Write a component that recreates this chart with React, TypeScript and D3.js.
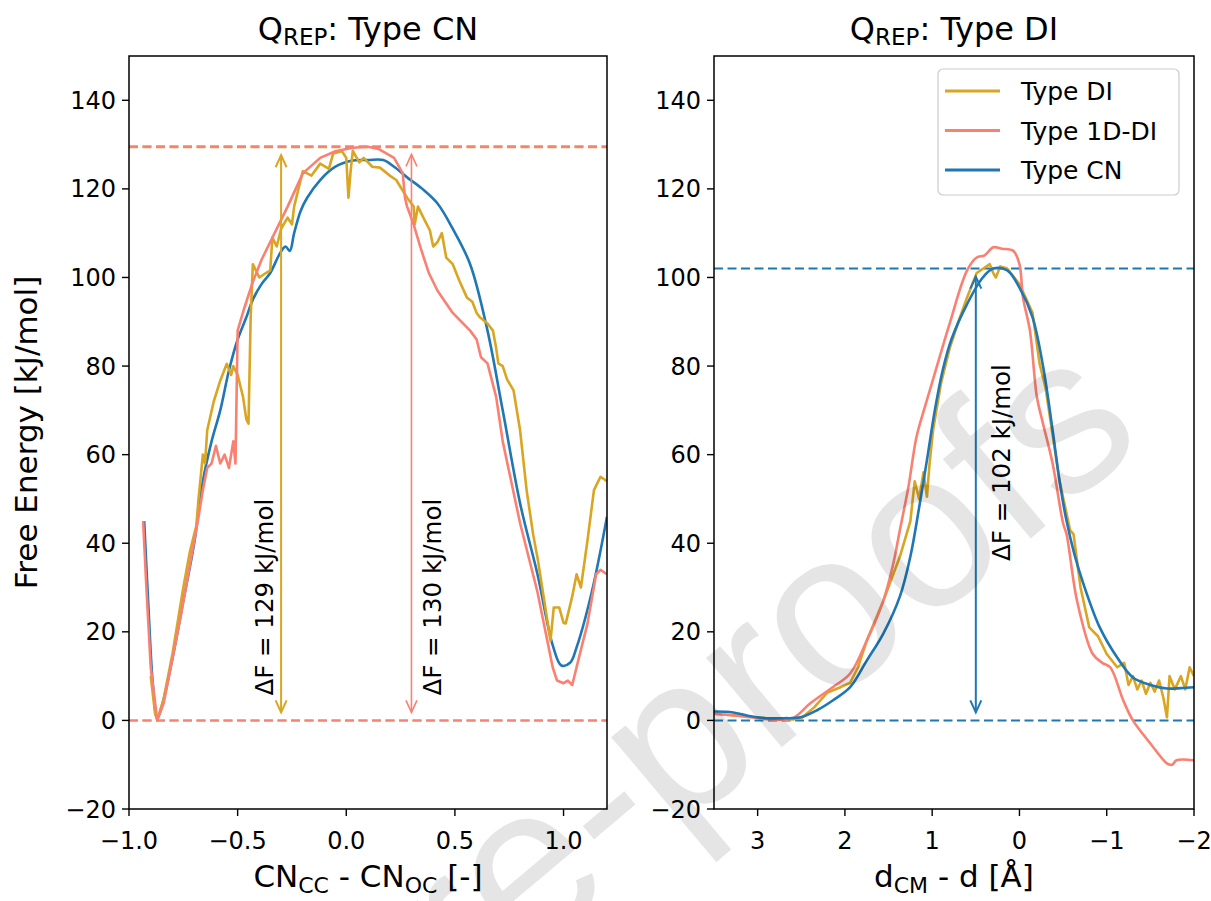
import React from 'react';
import * as d3 from 'd3';

type P = [number, number];

// ---------- data ----------
const leftTypeDI: P[] = [
  [-0.9, 10], [-0.88, 1.6], [-0.87, 0], [-0.84, 5], [-0.8, 15], [-0.75, 30], [-0.72, 38], [-0.69, 44],
  [-0.68, 50], [-0.67, 55], [-0.66, 60], [-0.65, 58], [-0.64, 65.5], [-0.61, 72], [-0.58, 76.7],
  [-0.55, 80.5], [-0.53, 78], [-0.52, 80], [-0.5, 78], [-0.49, 76], [-0.475, 73], [-0.46, 68],
  [-0.45, 67], [-0.44, 91], [-0.43, 103], [-0.4, 100], [-0.37, 101], [-0.35, 101.6], [-0.34, 109],
  [-0.32, 107], [-0.3, 111], [-0.27, 113.5], [-0.25, 112], [-0.24, 116], [-0.2, 124], [-0.16, 123],
  [-0.12, 125.7], [-0.08, 124.5], [-0.06, 128], [-0.02, 128.5], [0.0, 127], [0.01, 118], [0.02, 124],
  [0.03, 128.6], [0.06, 126], [0.08, 127], [0.12, 125], [0.155, 124.8], [0.2, 123], [0.23, 122],
  [0.28, 118], [0.31, 116], [0.315, 112], [0.33, 116], [0.36, 113], [0.385, 110.6], [0.4, 107],
  [0.42, 108], [0.44, 110], [0.46, 104.5], [0.49, 103], [0.52, 99.3], [0.555, 95.5], [0.58, 94.5],
  [0.6, 92], [0.615, 91], [0.65, 89.6], [0.675, 88], [0.69, 84], [0.7, 80.6], [0.72, 80], [0.74, 77],
  [0.77, 74.5], [0.8, 65.5], [0.83, 52], [0.86, 42], [0.88, 36.8], [0.905, 29], [0.94, 18],
  [0.955, 25.5], [0.98, 25.5], [1.0, 22], [1.01, 21.9], [1.04, 28], [1.06, 33], [1.08, 30],
  [1.11, 40.6], [1.14, 52], [1.17, 55], [1.2, 54],
];
const leftType1DDI: P[] = [
  [-0.935, 45], [-0.92, 30], [-0.9, 12], [-0.87, 0], [-0.84, 4], [-0.8, 14], [-0.76, 24], [-0.72, 35],
  [-0.68, 46], [-0.66, 52], [-0.64, 57], [-0.62, 58], [-0.6, 62], [-0.58, 58], [-0.56, 60],
  [-0.54, 57], [-0.52, 63], [-0.51, 58], [-0.5, 88], [-0.47, 93], [-0.43, 99], [-0.39, 104],
  [-0.35, 108], [-0.31, 112], [-0.27, 116], [-0.2, 123.5], [-0.12, 127], [-0.05, 128.5], [0.03, 129.3],
  [0.1, 129.5], [0.15, 129], [0.22, 127], [0.26, 123.5], [0.27, 118], [0.28, 116], [0.31, 112],
  [0.34, 107], [0.38, 101], [0.42, 97], [0.49, 92], [0.57, 88], [0.6, 86], [0.62, 82], [0.65, 80.6],
  [0.69, 73], [0.72, 63], [0.8, 44.5], [0.88, 29], [0.95, 12], [0.97, 9], [1.0, 8.4], [1.02, 9],
  [1.04, 8], [1.07, 14], [1.11, 21.8], [1.15, 33], [1.17, 34], [1.2, 33],
];
const leftTypeCN: P[] = [
  [-0.93, 45], [-0.91, 25], [-0.89, 8], [-0.87, 0.5], [-0.85, 3], [-0.8, 14], [-0.75, 27], [-0.7, 40],
  [-0.66, 54], [-0.62, 63], [-0.58, 70], [-0.54, 79], [-0.5, 86], [-0.46, 91], [-0.43, 95],
  [-0.39, 98.5], [-0.35, 101], [-0.31, 105], [-0.28, 107], [-0.26, 106], [-0.24, 110], [-0.21, 115],
  [-0.18, 118], [-0.12, 122], [-0.05, 125], [0.03, 126.4], [0.1, 126.5], [0.17, 126.5], [0.22, 125],
  [0.28, 122.6], [0.35, 120], [0.42, 116.7], [0.49, 111], [0.57, 103], [0.65, 88], [0.72, 70],
  [0.8, 49], [0.88, 33], [0.95, 17], [0.99, 12.4], [1.03, 13], [1.06, 16.5], [1.13, 29], [1.2, 46],
];

const rightTypeDI: P[] = [
  [3.5, 1.5], [3.2, 1], [2.9, 0.5], [2.6, 0.2], [2.5, 0.5], [2.35, 3], [2.2, 6.3], [2.05, 7.5],
  [1.94, 8.5], [1.85, 12], [1.75, 18], [1.56, 27], [1.37, 37], [1.25, 45], [1.2, 54], [1.15, 50],
  [1.1, 56], [1.06, 50.5], [1.03, 58], [0.99, 65.5], [0.9, 76], [0.8, 84], [0.7, 90], [0.6, 95.5],
  [0.49, 101], [0.34, 103], [0.3, 101], [0.27, 100], [0.22, 102.5], [0.14, 102], [0.0, 98.5],
  [-0.15, 92], [-0.23, 80.6], [-0.3, 75], [-0.35, 68.4], [-0.46, 54], [-0.58, 43], [-0.62, 42],
  [-0.7, 30], [-0.8, 21], [-0.9, 19], [-1.0, 15], [-1.12, 12], [-1.2, 13], [-1.25, 8], [-1.3, 10],
  [-1.35, 7], [-1.4, 9], [-1.45, 6], [-1.5, 8.5], [-1.55, 6.5], [-1.6, 9], [-1.65, 5], [-1.69, 0.7],
  [-1.72, 10], [-1.78, 7], [-1.85, 10], [-1.9, 7], [-1.95, 12], [-2, 10],
];
const rightType1DDI: P[] = [
  [3.5, 1.5], [3.2, 1], [2.9, 0.3], [2.6, 0.5], [2.4, 3.8], [2.14, 7.5], [1.94, 10.6], [1.75, 18],
  [1.56, 27], [1.45, 35], [1.37, 43], [1.27, 53], [1.18, 64], [1.08, 71], [0.99, 77], [0.8, 89.6],
  [0.6, 101.6], [0.49, 104.5], [0.4, 105], [0.3, 106.8], [0.2, 106.5], [0.07, 106], [0.0, 103],
  [-0.04, 95.5], [-0.12, 88], [-0.2, 73], [-0.27, 67], [-0.38, 58], [-0.5, 44.5], [-0.54, 42],
  [-0.66, 27], [-0.84, 15], [-0.95, 13], [-1.04, 12], [-1.19, 4.5], [-1.3, 0], [-1.5, -5.2],
  [-1.69, -9.7], [-1.75, -10], [-1.8, -9], [-2, -9],
];
const rightTypeCN: P[] = [
  [3.5, 2], [3.28, 1.8], [3.1, 1], [2.9, 0.5], [2.7, 0.5], [2.51, 0.7], [2.32, 2.3], [2.14, 4.5],
  [1.94, 7.5], [1.75, 13.5], [1.56, 19.6], [1.37, 28], [1.25, 37], [1.15, 48], [1.05, 60], [0.97, 70],
  [0.88, 79], [0.78, 86], [0.6, 94], [0.42, 100], [0.3, 102], [0.14, 101.6], [0.0, 97.7],
  [-0.15, 91], [-0.27, 80], [-0.38, 65.5], [-0.46, 54], [-0.54, 45], [-0.63, 37.5], [-0.73, 31],
  [-0.92, 21], [-1.12, 14.2], [-1.3, 9.7], [-1.5, 8], [-1.69, 7.2], [-1.85, 7.3], [-2, 7.5],
];

const yTicks = [-20, 0, 20, 40, 60, 80, 100, 120, 140];
const leftXTicks = [-1, -0.5, 0, 0.5, 1];
const rightXTicks = [3, 2, 1, 0, -1, -2];
const seriesNames = ['Type DI', 'Type 1D-DI', 'Type CN'];
const seriesColors = ['#daa520', '#fa8072', '#1f77b4'];
const leftBarriers = [129.4, 129.6];
const rightBarrier = 102;
const leftArrowX = [-0.3, 0.3];
const rightArrowX = 0.5;
const leftLabels = ['ΔF = 129 kJ/mol', 'ΔF = 130 kJ/mol'];
const rightLabel = 'ΔF = 102 kJ/mol';

// ---------- layout ----------
const W = 1211, H = 901;
const TOP = 56, BOTTOM = 809;
const L = { x0: 129, x1: 607 };
const R = { x0: 714, x1: 1194 };
const FONT = 'DejaVu Sans, sans-serif';

const y = d3.scaleLinear().domain([-20, 150]).range([BOTTOM, TOP]);
const xL = d3.scaleLinear().domain([-1, 1.2]).range([L.x0, L.x1]);
const xR = d3.scaleLinear().domain([3.5, -2]).range([R.x0, R.x1]);

function Arrow({ x, y0, y1, color, w }: { x: number; y0: number; y1: number; color: string; w: number }) {
  const shrink = 8, hl = 12, hw = 5.5;
  const top = y(y1) + shrink, bot = y(y0) - shrink;
  return (
    <g stroke={color} strokeWidth={w} fill="none">
      <line x1={x} x2={x} y1={top} y2={bot} />
      <path d={`M${x - hw},${top + hl}L${x},${top}L${x + hw},${top + hl}`} />
      <path d={`M${x - hw},${bot - hl}L${x},${bot}L${x + hw},${bot - hl}`} />
    </g>
  );
}

function YAxis({ x0 }: { x0: number }) {
  return (
    <g>
      {yTicks.map((t) => (
        <g key={t}>
          <line x1={x0 - 7} x2={x0} y1={y(t)} y2={y(t)} stroke="#000" strokeWidth={1.4} />
          <text x={x0 - 13} y={y(t) + 8.5} textAnchor="end" fontSize={24} fontFamily={FONT} fill="#000">
            {d3.format('d')(t)}
          </text>
        </g>
      ))}
    </g>
  );
}

function XAxis({ scale, ticks, fmt }: { scale: d3.ScaleLinear<number, number>; ticks: number[]; fmt: (n: number) => string }) {
  return (
    <g>
      {ticks.map((t) => (
        <g key={t}>
          <line x1={scale(t)} x2={scale(t)} y1={BOTTOM} y2={BOTTOM + 7} stroke="#000" strokeWidth={1.4} />
          <text x={scale(t)} y={BOTTOM + 40} textAnchor="middle" fontSize={24} fontFamily={FONT} fill="#000">
            {fmt(t)}
          </text>
        </g>
      ))}
    </g>
  );
}

export default function App() {
  const lineL = d3.line<P>().x((d) => xL(d[0])).y((d) => y(d[1]));
  const lineR = d3.line<P>().x((d) => xR(d[0])).y((d) => y(d[1]));
  const smoothL = d3.line<P>().x((d) => xL(d[0])).y((d) => y(d[1])).curve(d3.curveCatmullRom.alpha(0.5));
  const smoothR = d3.line<P>().x((d) => xR(d[0])).y((d) => y(d[1])).curve(d3.curveCatmullRom.alpha(0.5));
  const leftSeries = [leftTypeDI, leftType1DDI, leftTypeCN];
  const rightSeries = [rightTypeDI, rightType1DDI, rightTypeCN];
  const leftOrder = [2, 0, 1];
  const rightOrder = [0, 1, 2];
  const dash = '9 4.5';

  return (
    <svg width={W} height={H} style={{ position: 'absolute', left: 0, top: 0, background: '#fff' }}>
      <defs>
        <clipPath id="clipL"><rect x={L.x0} y={TOP} width={L.x1 - L.x0} height={BOTTOM - TOP} /></clipPath>
        <clipPath id="clipR"><rect x={R.x0} y={TOP} width={R.x1 - R.x0} height={BOTTOM - TOP} /></clipPath>
        <clipPath id="clipAll"><rect x={0} y={0} width={W} height={H} /></clipPath>
      </defs>
      <rect width={W} height={H} fill="#fff" />

      {/* ---------- left panel ---------- */}
      <g clipPath="url(#clipL)">
        {leftBarriers.map((b, i) => (
          <line key={'b' + i} x1={L.x0} x2={L.x1} y1={y(b)} y2={y(b)} stroke={seriesColors[i]} strokeWidth={2} strokeDasharray={dash} />
        ))}
        {leftBarriers.map((b, i) => (
          <line key={'z' + i} x1={L.x0} x2={L.x1} y1={y(0)} y2={y(0)} stroke={seriesColors[i]} strokeWidth={2} strokeDasharray={dash} />
        ))}
        {leftOrder.map((i) => (
          <path key={i} d={(i === 2 ? smoothL : lineL)(leftSeries[i]) || ''} fill="none" stroke={seriesColors[i]} strokeWidth={2.6} strokeLinejoin="round" />
        ))}
        {leftArrowX.map((ax, i) => (
          <Arrow key={'a' + i} x={xL(ax)} y0={0} y1={leftBarriers[i]} color={seriesColors[i]} w={i === 0 ? 2 : 1.6} />
        ))}
      </g>
      <text transform={`translate(${xL(leftArrowX[0]) - 8},${y(5.6)}) rotate(-90)`} fontSize={24.5} fontFamily={FONT} fill="#000">{leftLabels[0]}</text>
      <text transform={`translate(${xL(leftArrowX[1]) + 30},${y(5.6)}) rotate(-90)`} fontSize={24.5} fontFamily={FONT} fill="#000">{leftLabels[1]}</text>
      <rect x={L.x0} y={TOP} width={L.x1 - L.x0} height={BOTTOM - TOP} fill="none" stroke="#000" strokeWidth={1.5} />
      <YAxis x0={L.x0} />
      <XAxis scale={xL} ticks={leftXTicks} fmt={d3.format('.1f')} />
      <text x={(L.x0 + L.x1) / 2} y={40} textAnchor="middle" fontSize={32} fontFamily={FONT} fill="#000">
        Q<tspan fontSize={23} dy={5}>REP</tspan><tspan dy={-5}>: Type CN</tspan>
      </text>
      <text x={(L.x0 + L.x1) / 2} y={887} textAnchor="middle" fontSize={31} fontFamily={FONT} fill="#000">
        CN<tspan fontSize={22} dy={6}>CC</tspan><tspan dy={-6}> - CN</tspan><tspan fontSize={22} dy={6}>OC</tspan><tspan dy={-6}> [-]</tspan>
      </text>
      <text transform={`translate(37,${(TOP + BOTTOM) / 2}) rotate(-90)`} textAnchor="middle" fontSize={31} fontFamily={FONT} fill="#000">
        Free Energy [kJ/mol]
      </text>

      {/* ---------- right panel ---------- */}
      <g clipPath="url(#clipR)">
        <line x1={R.x0} x2={R.x1} y1={y(rightBarrier)} y2={y(rightBarrier)} stroke={seriesColors[2]} strokeWidth={2} strokeDasharray={dash} />
        <line x1={R.x0} x2={R.x1} y1={y(0)} y2={y(0)} stroke={seriesColors[2]} strokeWidth={2} strokeDasharray={dash} />
        {rightOrder.map((i) => (
          <path key={i} d={(i === 0 ? lineR : smoothR)(rightSeries[i]) || ''} fill="none" stroke={seriesColors[i]} strokeWidth={2.6} strokeLinejoin="round" />
        ))}
        <Arrow x={xR(rightArrowX)} y0={0} y1={rightBarrier} color={seriesColors[2]} w={2} />
      </g>
      <text transform={`translate(${xR(rightArrowX) + 34},${y(36)}) rotate(-90)`} fontSize={24.5} fontFamily={FONT} fill="#000">{rightLabel}</text>
      <rect x={R.x0} y={TOP} width={R.x1 - R.x0} height={BOTTOM - TOP} fill="none" stroke="#000" strokeWidth={1.5} />
      <YAxis x0={R.x0} />
      <XAxis scale={xR} ticks={rightXTicks} fmt={d3.format('d')} />
      <text x={(R.x0 + R.x1) / 2} y={40} textAnchor="middle" fontSize={32} fontFamily={FONT} fill="#000">
        Q<tspan fontSize={23} dy={5}>REP</tspan><tspan dy={-5}>: Type DI</tspan>
      </text>
      <text x={(R.x0 + R.x1) / 2} y={887} textAnchor="middle" fontSize={31} fontFamily={FONT} fill="#000">
        d<tspan fontSize={22} dy={6}>CM</tspan><tspan dy={-6}> - d [Å]</tspan>
      </text>

      {/* legend */}
      <g>
        <rect x={938} y={69} width={241} height={126} rx={5} fill="#fff" fillOpacity={0.8} stroke="#cccccc" strokeWidth={1.2} />
        {seriesNames.map((n, i) => (
          <g key={n}>
            <line x1={945} x2={1000} y1={91 + i * 39.5} y2={91 + i * 39.5} stroke={seriesColors[i]} strokeWidth={3} />
            <text x={1021} y={100 + i * 39.5} fontSize={25} fontFamily={FONT} fill="#000">{n}</text>
          </g>
        ))}
      </g>

      {/* watermark (runs off the page edge, as in the reference) */}
      <g clipPath="url(#clipAll)">
        <text transform="translate(1148,440) rotate(-40)" textAnchor="end" fontSize={222} fontFamily="Liberation Sans, Arial, sans-serif" fill="#000" fillOpacity={0.1}>
          Journal Pre-proofs
        </text>
      </g>
    </svg>
  );
}
